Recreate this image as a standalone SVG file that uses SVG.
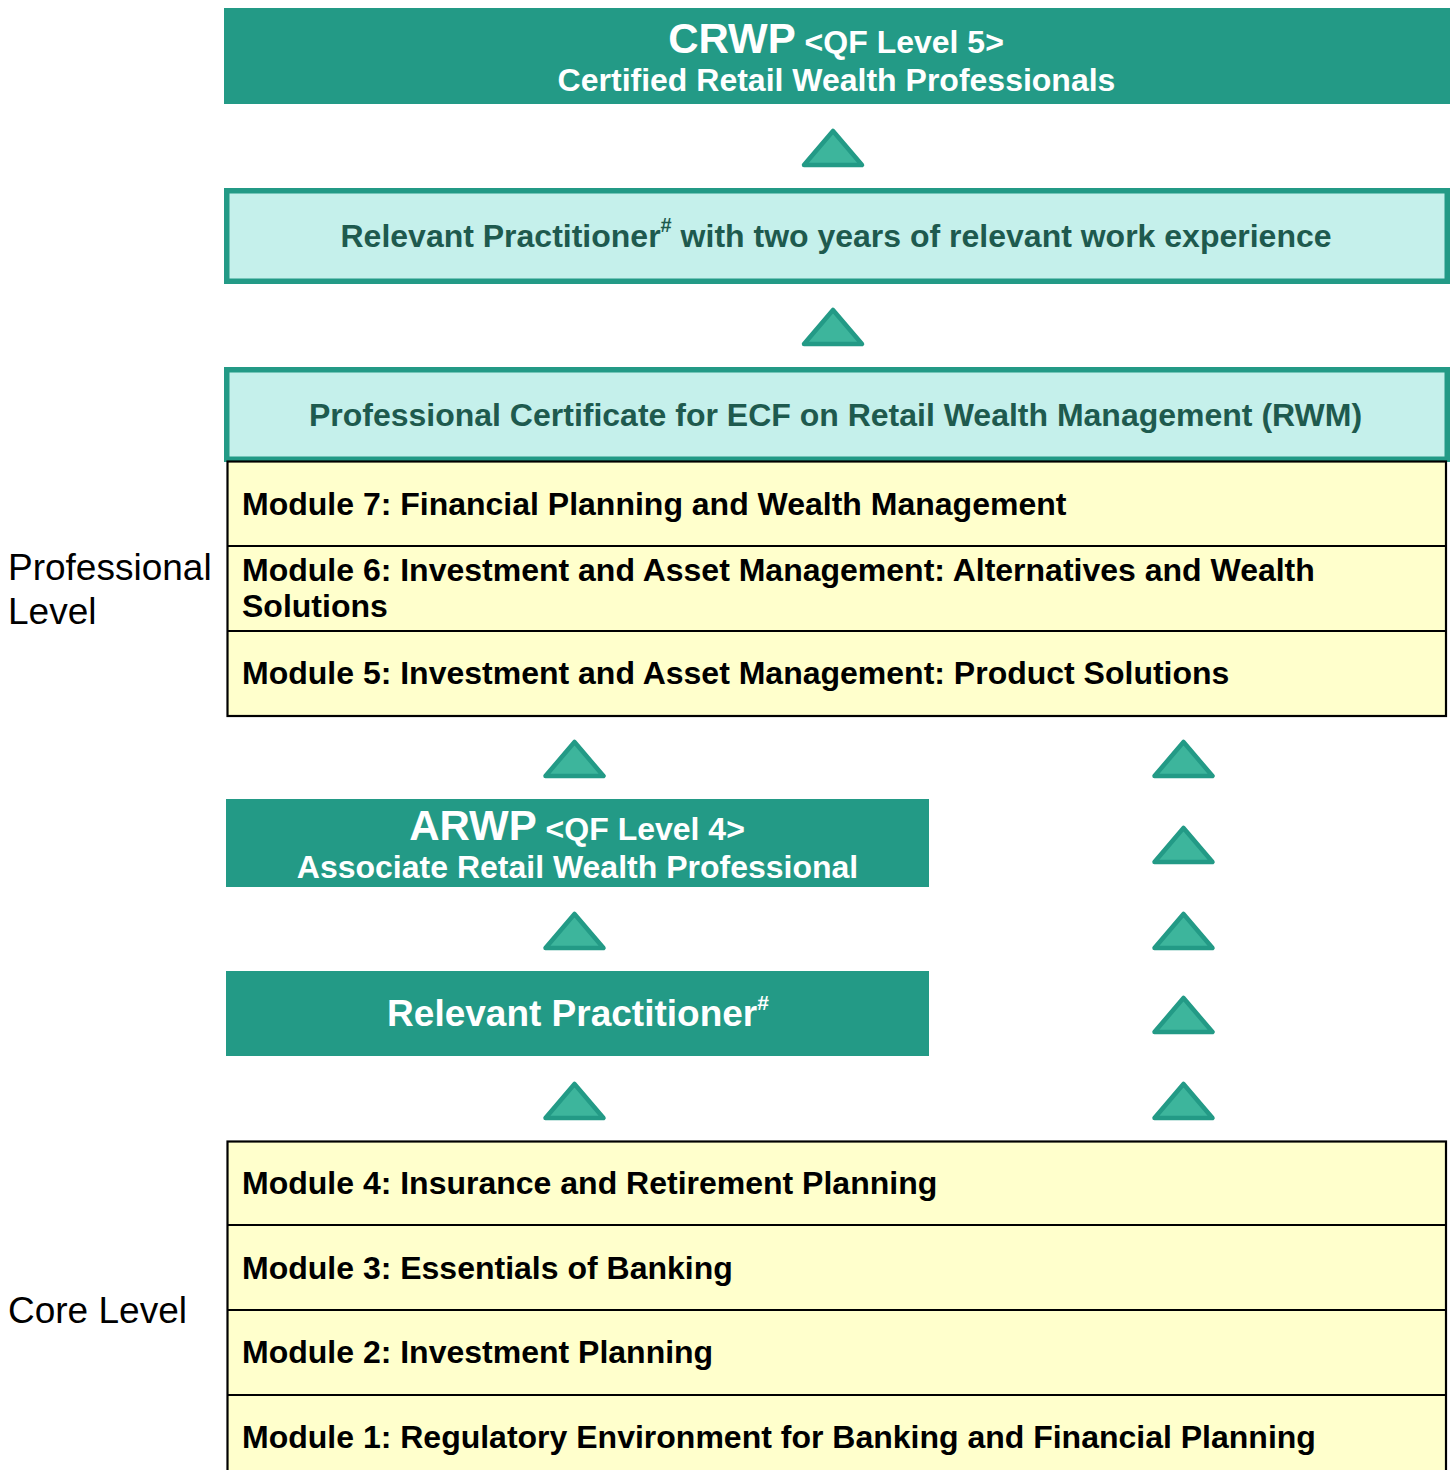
<svg xmlns="http://www.w3.org/2000/svg" width="1452" height="1470" viewBox="0 0 1452 1470">
<defs>
<style>
text{font-family:"Liberation Sans",Arial,sans-serif;font-weight:bold}
.hdr{fill:#239a86}
.wt{fill:#ffffff}
.lt{fill:#c5f0eb;stroke:#239a86;stroke-width:5.5}
.dk{fill:#1e5a4e;font-size:32px}
.mod{fill:#ffffcc;stroke:#000;stroke-width:2.2}
.mline{stroke:#000;stroke-width:2.2}
.mt{fill:#000;font-size:32px}
.lbl{fill:#000;font-weight:normal;font-size:37px}
.tri{fill:#3db59c;stroke:#239a86;stroke-width:4.5;stroke-linejoin:round}
</style>
<polygon id="tr" points="0,0 29,34 -29,34"/>
</defs>

<g id="labels">
<text class="lbl" x="8" y="580">Professional</text>
<text class="lbl" x="8" y="624">Level</text>
<text class="lbl" x="8" y="1323">Core Level</text>
</g>

<g id="crwp">
<rect class="hdr" x="224" y="8" width="1226" height="96"/>
<text class="wt" x="836" y="53" text-anchor="middle"><tspan font-size="42">CRWP</tspan><tspan font-size="32"> &lt;QF Level 5&gt;</tspan></text>
<text class="wt" x="836.5" y="91" font-size="32" text-anchor="middle">Certified Retail Wealth Professionals</text>
</g>

<g id="practitioner-2yrs">
<rect class="lt" x="226.75" y="190.75" width="1220.5" height="90.5"/>
<text class="dk" x="836" y="247" text-anchor="middle">Relevant Practitioner<tspan font-size="20" dy="-15">#</tspan><tspan dy="15"> with two years of relevant work experience</tspan></text>
</g>

<g id="pc-rwm">
<rect class="lt" x="226.75" y="369.75" width="1220.5" height="89.5"/>
<text class="dk" x="835.5" y="426" text-anchor="middle">Professional Certificate for ECF on Retail Wealth Management (RWM)</text>
</g>

<g id="professional-modules">
<rect class="mod" x="227.5" y="461.5" width="1218.5" height="254.5"/>
<line class="mline" x1="227.5" y1="546" x2="1446" y2="546"/>
<line class="mline" x1="227.5" y1="631" x2="1446" y2="631"/>
<text class="mt" x="242" y="515">Module 7: Financial Planning and Wealth Management</text>
<text class="mt" x="242" y="581">Module 6: Investment and Asset Management: Alternatives and Wealth</text>
<text class="mt" x="242" y="617">Solutions</text>
<text class="mt" x="242" y="684">Module 5: Investment and Asset Management: Product Solutions</text>
</g>

<g id="arwp">
<rect class="hdr" x="226" y="799" width="703" height="88"/>
<text class="wt" x="577" y="840" text-anchor="middle"><tspan font-size="42">ARWP</tspan><tspan font-size="32"> &lt;QF Level 4&gt;</tspan></text>
<text class="wt" x="577.5" y="878" font-size="32" text-anchor="middle">Associate Retail Wealth Professional</text>
</g>

<g id="relevant-practitioner">
<rect class="hdr" x="226" y="971" width="703" height="85"/>
<text class="wt" x="578" y="1026" font-size="37" text-anchor="middle">Relevant Practitioner<tspan font-size="21" dy="-16">#</tspan></text>
</g>

<g id="core-modules">
<rect class="mod" x="227.5" y="1141.5" width="1218.5" height="340"/>
<line class="mline" x1="227.5" y1="1225" x2="1446" y2="1225"/>
<line class="mline" x1="227.5" y1="1310" x2="1446" y2="1310"/>
<line class="mline" x1="227.5" y1="1395" x2="1446" y2="1395"/>
<text class="mt" x="242" y="1194">Module 4: Insurance and Retirement Planning</text>
<text class="mt" x="242" y="1279">Module 3: Essentials of Banking</text>
<text class="mt" x="242" y="1363">Module 2: Investment Planning</text>
<text class="mt" x="242" y="1448">Module 1: Regulatory Environment for Banking and Financial Planning</text>
</g>

<g id="connectors">
<use href="#tr" class="tri" x="833" y="131"/>
<use href="#tr" class="tri" x="833" y="310"/>
<use href="#tr" class="tri" x="574.5" y="742"/>
<use href="#tr" class="tri" x="574.5" y="914"/>
<use href="#tr" class="tri" x="574.5" y="1084"/>
<use href="#tr" class="tri" x="1183.5" y="742"/>
<use href="#tr" class="tri" x="1183.5" y="828"/>
<use href="#tr" class="tri" x="1183.5" y="914"/>
<use href="#tr" class="tri" x="1183.5" y="998"/>
<use href="#tr" class="tri" x="1183.5" y="1084"/>
</g>
</svg>
